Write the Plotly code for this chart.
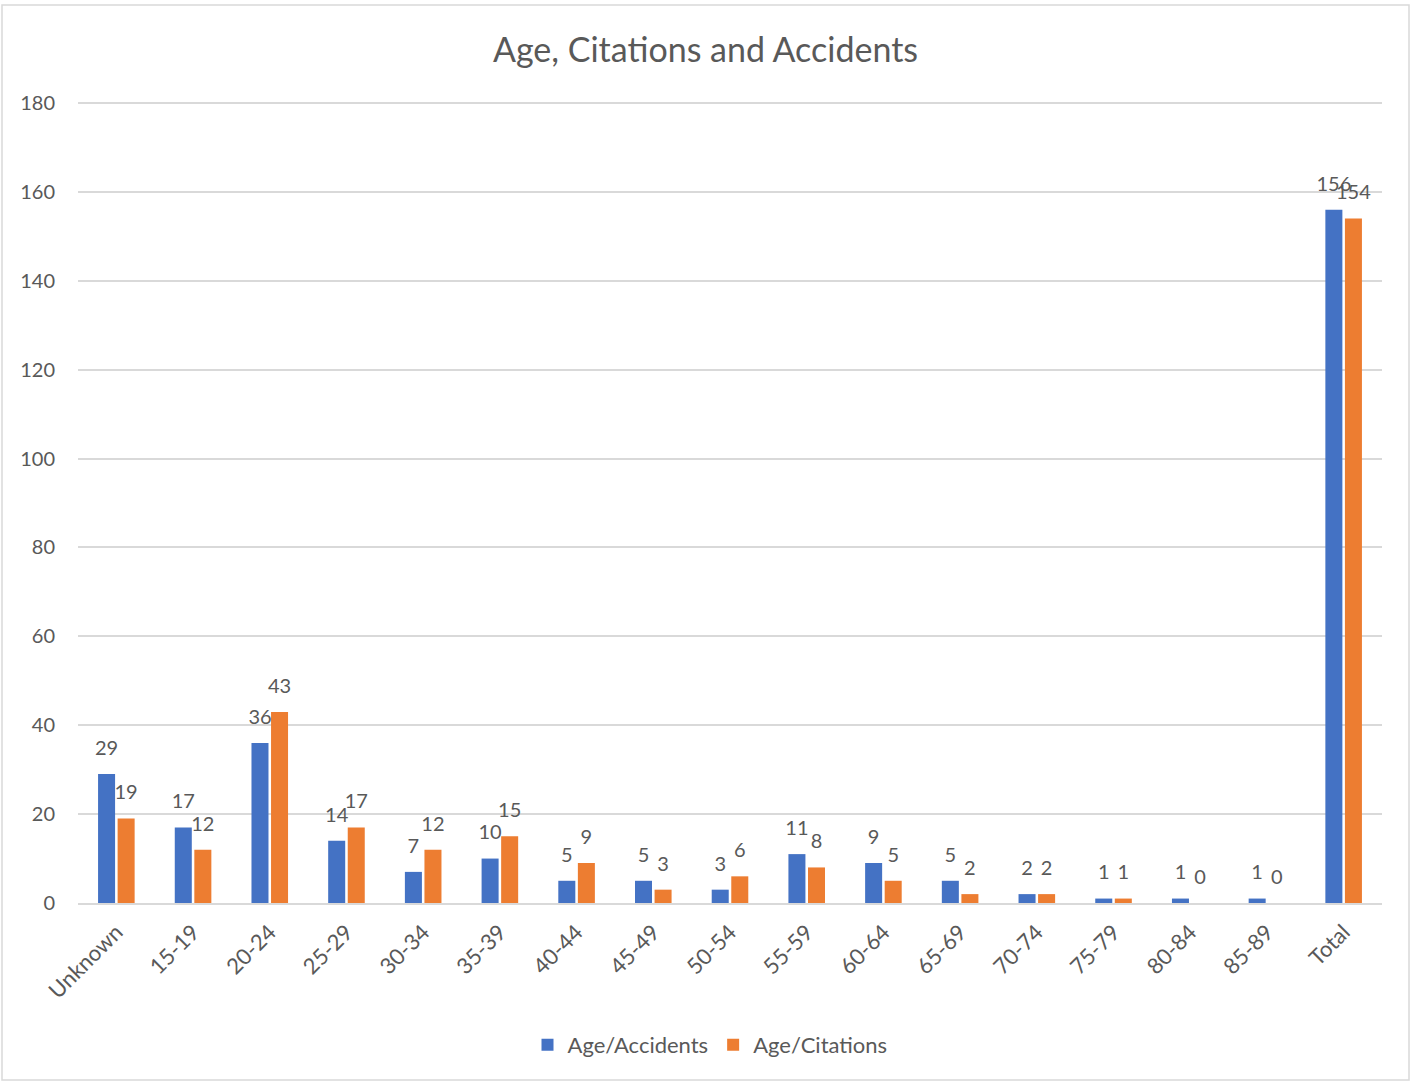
import plotly.graph_objects as go

categories = ["Unknown", "15-19", "20-24", "25-29", "30-34", "35-39", "40-44", "45-49",
              "50-54", "55-59", "60-64", "65-69", "70-74", "75-79", "80-84", "85-89", "Total"]
accidents = [29, 17, 36, 14, 7, 10, 5, 5, 3, 11, 9, 5, 2, 1, 1, 1, 156]
citations = [19, 12, 43, 17, 12, 15, 9, 3, 6, 8, 5, 2, 2, 1, 0, 0, 154]
y_ticks = [0, 20, 40, 60, 80, 100, 120, 140, 160, 180]

FONT = "Lato, 'Open Sans', sans-serif"
TXT = "#595959"
BLUE, ORANGE = "#4472C4", "#ED7D31"

W, H = 1411, 1082
ml, mr, mt, mb = 78, 29, 99, 179
pw, ph = W - ml - mr, H - mt - mb
ymax = 180 * ph / 800.0
GAP = 0.49

fig = go.Figure()
for name, vals, col, grp in [("Age/Accidents", accidents, BLUE, "a"),
                             ("Age/Citations", citations, ORANGE, "b")]:
    fig.add_trace(go.Bar(x=categories, y=vals, name=name, offsetgroup=grp,
                         marker=dict(color=col, line=dict(width=0))))
for vals, grp in [(accidents, "a"), (citations, "b")]:
    fig.add_trace(go.Scatter(x=categories, y=vals, mode="markers+text", offsetgroup=grp,
                             text=[str(v) for v in vals], textposition="top center",
                             marker=dict(size=21, color="rgba(0,0,0,0)"),
                             textfont=dict(size=20, color=TXT, family=FONT),
                             cliponaxis=False, showlegend=False, hoverinfo="skip"))

fig.update_layout(
    width=W, height=H,
    margin=dict(l=ml, r=mr, t=mt, b=mb, autoexpand=False),
    paper_bgcolor="white", plot_bgcolor="white",
    font=dict(family=FONT, color=TXT, size=20),
    title=dict(text="Age, Citations and Accidents", x=0.5, xanchor="center",
               y=1 - 50 / H, yanchor="middle",
               font=dict(size=34, color=TXT, family=FONT)),
    barmode="group", bargap=GAP, bargroupgap=0.13,
    scattermode="group", scattergap=GAP,
    showlegend=True,
    legend=dict(orientation="h", x=0.5 - 20 / pw, xanchor="center",
                y=(H - mb - 1045) / ph,
                yanchor="middle", font=dict(size=22, color=TXT, family=FONT),
                itemsizing="constant", traceorder="normal", itemwidth=30),
    xaxis=dict(tickangle=-45, tickfont=dict(size=22, color=TXT, family=FONT),
               showgrid=False, showline=True, linecolor="#d9d9d9", linewidth=1.5,
               ticks="", ticklabelstandoff=6),
    yaxis=dict(range=[0, ymax], tickvals=y_ticks, showgrid=True, gridcolor="#d9d9d9",
               gridwidth=1.5, zeroline=False, showline=False, ticks="",
               tickfont=dict(size=20, color=TXT, family=FONT), ticklabelstandoff=22),
)

fig.add_shape(type="rect", xref="paper", yref="paper",
              x0=(2 - ml) / pw, x1=(1409 - ml) / pw,
              y0=((H - mb) - 1080) / ph, y1=((H - mb) - 5) / ph,
              line=dict(color="#d9d9d9", width=1.5), fillcolor="rgba(0,0,0,0)", layer="below")

fig.write_html("out.html", config={"displayModeBar": False},
               post_script="document.body.style.margin='0px';")
